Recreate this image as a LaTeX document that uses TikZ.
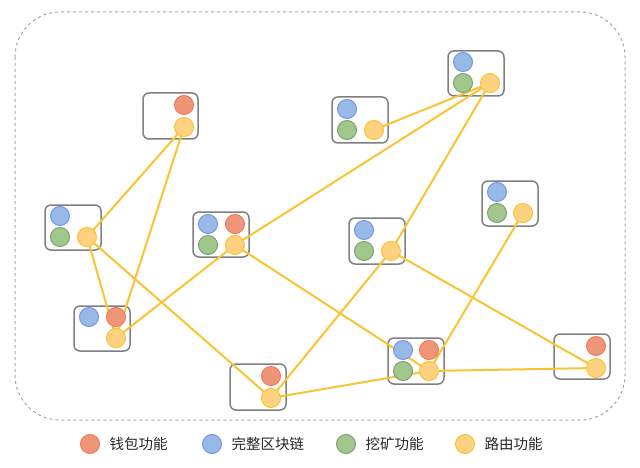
\documentclass[tikz,border=0pt]{standalone}
\usepackage{fontspec}
\newfontfamily\cjk{Noto Sans CJK SC}
\usetikzlibrary{calc}
\definecolor{wal}{RGB}{240,150,120}
\definecolor{ful}{RGB}{150,185,230}
\definecolor{min}{RGB}{160,200,140}
\definecolor{rou}{RGB}{255,210,130}
\definecolor{lnk}{RGB}{250,195,50}
\tikzset{
  dot/.style = {circle, minimum size = 19pt, inner sep = 0pt, line width = 1pt},
  wallet/.style = {dot, fill = wal, draw = wal!80!red},
  full/.style = {dot, fill = ful, draw = ful!80!blue},
  miner/.style = {dot, fill = min, draw = min!80!black},
  router/.style = {dot, fill = rou, draw = lnk},
  box/.style = {draw = gray, line width = 1.5pt, rounded corners = 6pt},
  link/.style = {draw = lnk, line width = 2pt},
  legend/.style = {right = 6pt, font = \cjk\fontsize{14.5}{16}\selectfont, text = gray!30!black}
}
\begin{document}
\begin{tikzpicture}[x = 1pt, y = -1pt]
\useasboundingbox (0, 0) rectangle (640, 468);
\draw [gray!70, dashed, line width = 1pt, rounded corners = 45pt] (15, 12) rectangle (625, 420);
% boxes
\draw [box] (143, 93) rectangle (198, 139);
\draw [box] (45, 205) rectangle (101, 250);
\draw [box] (74, 306) rectangle (130, 351);
\draw [box] (193, 212) rectangle (249, 257);
\draw [box] (230, 364) rectangle (286, 410);
\draw [box] (332, 97) rectangle (388, 143);
\draw [box] (448, 51) rectangle (504, 96);
\draw [box] (349, 218) rectangle (405, 264);
\draw [box] (482, 181) rectangle (538, 226);
\draw [box] (388, 338) rectangle (444, 384);
\draw [box] (554, 334) rectangle (610, 379);
% links between router nodes
\coordinate (rA) at (184, 127);
\coordinate (rB) at (87, 237);
\coordinate (rC) at (116, 338);
\coordinate (rD) at (235, 245);
\coordinate (rE) at (271, 398);
\coordinate (rF) at (374, 130);
\coordinate (rG) at (490, 83);
\coordinate (rH) at (391, 251);
\coordinate (rI) at (523, 213);
\coordinate (rJ) at (429, 371);
\coordinate (rK) at (596, 368);
\foreach \a/\b in {A/B, A/C, B/C, B/E, C/D, D/G, D/J, F/G, G/H, H/E, H/K, I/J, E/J, J/K}
  \draw [link] (r\a) -- (r\b);
% function circles
\node [wallet] (wA) at (184, 105) {};
\node [router] (yA) at (rA) {};
\node [full] (bB) at (60, 216) {};
\node [miner] (gB) at (60, 237) {};
\node [router] (yB) at (rB) {};
\node [full] (bC) at (89, 317) {};
\node [wallet] (wC) at (116, 317) {};
\node [router] (yC) at (rC) {};
\node [full] (bD) at (208, 224) {};
\node [wallet] (wD) at (235, 224) {};
\node [miner] (gD) at (208, 245) {};
\node [router] (yD) at (rD) {};
\node [wallet] (wE) at (271, 376) {};
\node [router] (yE) at (rE) {};
\node [full] (bF) at (347, 109) {};
\node [miner] (gF) at (347, 130) {};
\node [router] (yF) at (rF) {};
\node [full] (bG) at (463, 62) {};
\node [miner] (gG) at (463, 83) {};
\node [router] (yG) at (rG) {};
\node [full] (bH) at (364, 230) {};
\node [miner] (gH) at (364, 251) {};
\node [router] (yH) at (rH) {};
\node [full] (bI) at (497, 192) {};
\node [miner] (gI) at (497, 213) {};
\node [router] (yI) at (rI) {};
\node [full] (bJ) at (403, 350) {};
\node [wallet] (wJ) at (429, 350) {};
\node [miner] (gJ) at (403, 371) {};
\node [router] (yJ) at (rJ) {};
\node [wallet] (wK) at (596, 346) {};
\node [router] (yK) at (rK) {};
% legend
\node [wallet] (lw) at (90, 444) {};
\node [legend] at (lw.east) {钱包功能};
\node [full] (lb) at (212, 444) {};
\node [legend] at (lb.east) {完整区块链};
\node [miner] (lg) at (346, 444) {};
\node [legend] at (lg.east) {挖矿功能};
\node [router] (ly) at (465, 444) {};
\node [legend] at (ly.east) {路由功能};
\end{tikzpicture}
\end{document}
